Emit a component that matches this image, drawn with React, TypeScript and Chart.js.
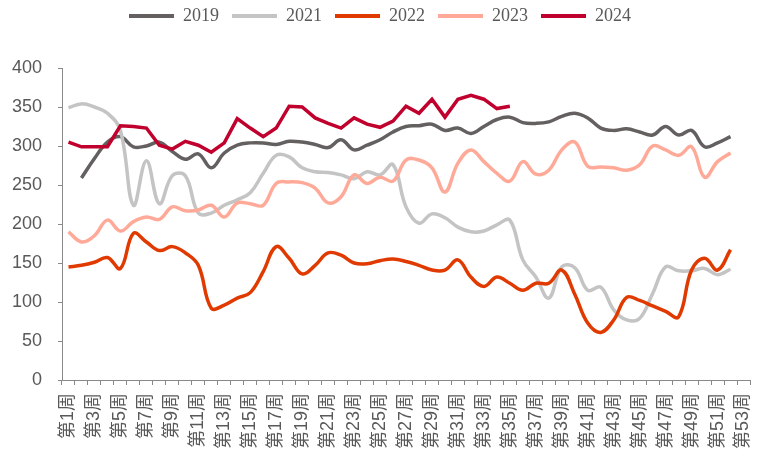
import React, { useEffect, useRef } from "react";
import { Chart, registerables } from "chart.js";

Chart.register(...registerables);

const weeks: string[] = Array.from({ length: 53 }, (_, i) => `第${i + 1}周`);

const seriesNames = ["2019", "2021", "2022", "2023", "2024"];
const seriesColors = ["#646060", "#c4c4c4", "#e03a00", "#ffaa98", "#c0002d"];

const y2019 = [null, 259, 284, 305, 312, 299, 300, 305, 293, 283, 290, 272, 291, 301, 304, 304, 302, 306, 305, 302, 298, 308, 295, 301, 308, 318, 325, 326, 328, 320, 323, 316, 325, 334, 337, 330, 329, 331, 338, 342, 336, 323, 320, 322, 318, 314, 325, 314, 320, 299, 304, 312, null];
const y2021 = [349, 354, 350, 342, 320, 224, 281, 226, 262, 262, 214, 214, 224, 231, 240, 265, 288, 286, 272, 267, 266, 263, 258, 267, 263, 276, 222, 201, 213, 208, 196, 190, 191, 199, 205, 154, 132, 105, 145, 144, 115, 119, 90, 77, 79, 111, 145, 140, 140, 143, 135, 142, null];
const y2022 = [145, 147, 151, 157, 143, 188, 177, 166, 171, 163, 147, 92, 96, 105, 112, 139, 171, 156, 136, 147, 163, 160, 150, 149, 153, 155, 152, 147, 141, 141, 154, 132, 120, 132, 124, 115, 124, 124, 141, 110, 73, 61, 77, 106, 102, 95, 88, 81, 141, 156, 141, 167, null];
const y2023 = [190, 177, 185, 205, 191, 203, 209, 206, 222, 217, 218, 224, 209, 227, 226, 224, 252, 254, 253, 246, 227, 235, 263, 252, 260, 255, 282, 282, 272, 241, 278, 295, 280, 265, 255, 280, 264, 269, 295, 305, 274, 273, 272, 269, 276, 300, 295, 288, 299, 260, 280, 291, null];
const y2024 = [305, 299, 299, 299, 326, 325, 323, 301, 296, 306, 301, 292, 304, 335, 323, 312, 323, 351, 350, 336, 329, 323, 336, 328, 324, 332, 351, 342, 360, 337, 360, 365, 360, 348, 351, null, null, null, null, null, null, null, null, null, null, null, null, null, null, null, null, null, null];

const seriesData = [y2019, y2021, y2022, y2023, y2024];
const seriesTension = [0.4, 0.4, 0.4, 0.4, 0];

const yMin = 0;
const yMax = 400;
const yStep = 50;

const legendFitPlugin = {
  id: "legendFit",
  beforeInit(chart: any) {
    if (!chart.legend) return;
    const orig = chart.legend.fit;
    chart.legend.fit = function () {
      orig.call(this);
      this.height = 74;
    };
  },
};

export default function App() {
  const ref = useRef<HTMLCanvasElement | null>(null);

  useEffect(() => {
    if (!ref.current) return;
    const axisColor = "#898989";
    const textColor = "#595959";
    const chart = new Chart(ref.current, {
      type: "line",
      data: {
        labels: weeks,
        datasets: seriesNames.map((name, i) => ({
          label: name,
          data: seriesData[i] as any,
          borderColor: seriesColors[i],
          backgroundColor: seriesColors[i],
          borderWidth: 3.5,
          pointRadius: 0,
          pointHoverRadius: 0,
          tension: seriesTension[i],
          fill: false,
          spanGaps: false,
          order: seriesNames.length - i,
        })),
      },
      options: {
        responsive: false,
        animation: false,
        devicePixelRatio: 1,
        layout: { padding: { top: -6, right: 1, left: 0, bottom: 0 } },
        plugins: {
          tooltip: { enabled: false },
          legend: {
            position: "top",
            labels: {
              boxWidth: 45,
              boxHeight: 4,
              padding: 13,
              color: textColor,
              font: { family: "'Liberation Serif', 'Times New Roman', serif", size: 18 },
              generateLabels: (c: any) =>
                c.data.datasets.map((ds: any, i: number) => ({
                  text: ds.label,
                  fillStyle: seriesColors[i],
                  strokeStyle: seriesColors[i],
                  lineWidth: 0,
                  hidden: false,
                  datasetIndex: i,
                  fontColor: textColor,
                })),
            },
          },
        },
        scales: {
          x: {
            type: "category",
            offset: true,
            grid: {
              offset: true,
              drawOnChartArea: false,
              drawTicks: true,
              tickLength: 5,
              color: axisColor,
            },
            border: { display: true, color: axisColor, width: 1 },
            ticks: {
              autoSkip: false,
              maxRotation: 90,
              minRotation: 90,
              padding: 8,
              color: textColor,
              font: { family: "'Liberation Sans', 'Noto Sans CJK SC', sans-serif", size: 18 },
              callback: (_v: any, idx: number) => (idx % 2 === 0 ? weeks[idx] : ""),
            },
            afterFit: (scale: any) => {
              scale.height = 83;
              scale.paddingRight = 11;
              scale.paddingLeft = 0;
            },
          },
          y: {
            min: yMin,
            max: yMax,
            grid: {
              drawOnChartArea: false,
              drawTicks: true,
              tickLength: 4,
              color: axisColor,
            },
            border: { display: true, color: axisColor, width: 1 },
            ticks: {
              stepSize: yStep,
              padding: 16,
              color: textColor,
              font: { family: "'Liberation Sans', Arial, sans-serif", size: 18 },
            },
            afterFit: (scale: any) => {
              scale.width = 62;
            },
          },
        },
      },
      plugins: [legendFitPlugin],
    } as any);
    return () => chart.destroy();
  }, []);

  return (
    <div style={{ position: "fixed", left: 0, top: 0, width: 761, height: 463, background: "#fff" }}>
      <canvas ref={ref} width={761} height={463} style={{ width: 761, height: 463, display: "block" }} />
    </div>
  );
}
